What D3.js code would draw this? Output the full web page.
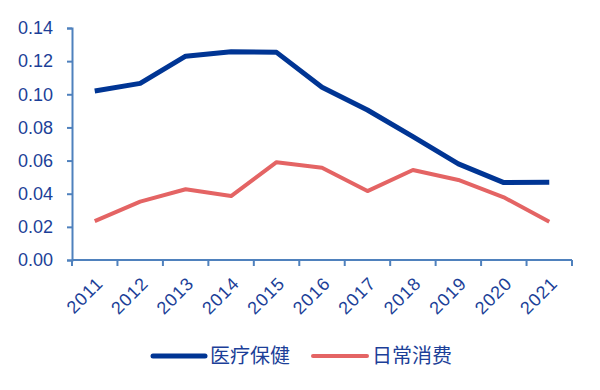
<!DOCTYPE html>
<html><head><meta charset="utf-8">
<script src="https://cdn.jsdelivr.net/npm/d3@7/dist/d3.min.js"></script>
<style>body{margin:0;background:#fff;} svg{display:block;}</style>
</head><body>
<svg id="c" width="600" height="390"></svg>
<script>
const years = ["2011","2012","2013","2014","2015","2016","2017","2018","2019","2020","2021"];
const seriesNames = ["医疗保健","日常消费"];
const healthcare = [0.102,0.1066,0.123,0.1257,0.1253,0.1042,0.0905,0.0744,0.058,0.0467,0.0469];
const consumer = [0.0235,0.0352,0.0427,0.0386,0.059,0.0557,0.0416,0.0543,0.0483,0.0378,0.0231];
const yTicks = [0,0.02,0.04,0.06,0.08,0.10,0.12,0.14];
const colors = ["#003594","#E46464"];

const svg = d3.select("#c");
const mLeft = 72, mRight = 572, mTop = 28, mBottom = 260;
const x = d3.scaleBand().domain(years).range([mLeft,mRight]);
const y = d3.scaleLinear().domain([0,0.14]).range([mBottom,mTop]);
const axisColor = "#4F81BD", textColor = "#1C3F98";
const font = "'Liberation Sans', Arial, sans-serif";

// y axis
const ya = svg.append("g").attr("transform",`translate(${mLeft},0)`)
  .call(d3.axisLeft(y).tickValues(yTicks).tickFormat(d3.format(".2f")).tickSize(5).tickPadding(14));
ya.select(".domain").attr("stroke",axisColor).attr("stroke-width",2);
ya.selectAll(".tick line").attr("stroke",axisColor).attr("stroke-width",2);
ya.selectAll(".tick text").attr("fill",textColor).style("font-family",font).style("font-size","18px");

// x axis
const xa = svg.append("g").attr("transform",`translate(0,${mBottom})`)
  .call(d3.axisBottom(x).tickSize(0).tickFormat(d=>d));
xa.select(".domain").attr("stroke",axisColor).attr("stroke-width",2).attr("d",`M${mLeft},0H${mRight}`);
const bounds = years.map(d=>x(d)).concat([mRight]);
xa.selectAll(".bt").data(bounds).enter().append("line").attr("class","bt")
  .attr("x1",d=>d).attr("x2",d=>d).attr("y1",0).attr("y2",6)
  .attr("stroke",axisColor).attr("stroke-width",2);
xa.selectAll(".tick text").attr("fill",textColor).style("font-family",font).style("font-size","18px").style("letter-spacing","1px")
  .attr("text-anchor","end").attr("dy","0.35em")
  .attr("transform","translate(5,20) rotate(-45)")
  .attr("y",0).attr("x",0);

// lines
const line = d3.line().x((d,i)=>x(years[i])+x.bandwidth()/2).y(d=>y(d));
[healthcare,consumer].forEach((s,i)=>{
  svg.append("path").datum(s).attr("d",line).attr("fill","none")
    .attr("stroke",colors[i]).attr("stroke-width",i===0?5:4).attr("stroke-linejoin","round");
});

// legend
const legend = [{x1:153,x2:205,tx:210},{x1:313,x2:367,tx:372}];
legend.forEach((l,i)=>{
  svg.append("line").attr("x1",l.x1).attr("x2",l.x2).attr("y1",356).attr("y2",356)
    .attr("stroke",colors[i]).attr("stroke-width",i===0?5:4).attr("stroke-linecap","round");
  svg.append("text").attr("x",l.tx).attr("y",356).attr("dy","0.35em").text(seriesNames[i])
    .attr("fill",textColor).style("font-family","'Noto Sans CJK SC', sans-serif").style("font-size","20px");
});
</script>
</body></html>
